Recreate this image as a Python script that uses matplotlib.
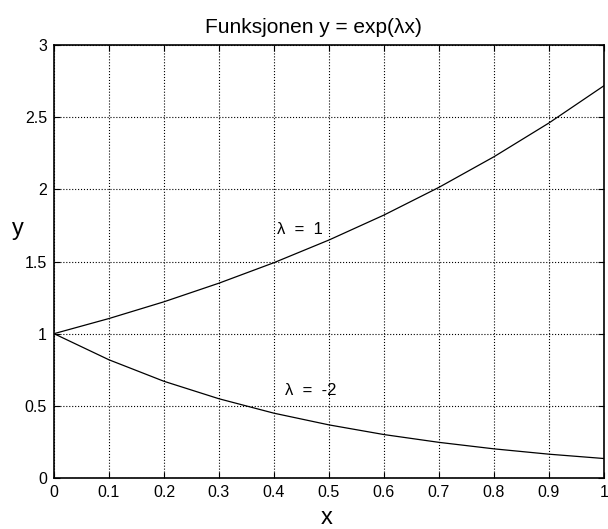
import matplotlib
matplotlib.use('Agg')
import matplotlib.pyplot as plt

# Values
x = [0, 0.1, 0.2, 0.3, 0.4, 0.5, 0.6, 0.7, 0.8, 0.9, 1.0]
y_pos = [1.0, 1.105, 1.221, 1.35, 1.492, 1.649, 1.822, 2.014, 2.226, 2.46, 2.718]
y_neg = [1.0, 0.819, 0.670, 0.549, 0.449, 0.368, 0.301, 0.247, 0.202, 0.165, 0.135]

x_ticks = [0, 0.1, 0.2, 0.3, 0.4, 0.5, 0.6, 0.7, 0.8, 0.9, 1]
x_tick_labels = ['0', '0.1', '0.2', '0.3', '0.4', '0.5', '0.6', '0.7', '0.8', '0.9', '1']
y_ticks = [0, 0.5, 1, 1.5, 2, 2.5, 3]
y_tick_labels = ['0', '0.5', '1', '1.5', '2', '2.5', '3']

plt.rcParams['font.family'] = ['Liberation Sans', 'DejaVu Sans']

fig = plt.figure(figsize=(6.08, 5.29), dpi=100)
ax = fig.add_axes([0.0888, 0.0964, 0.9046, 0.8185])

ax.plot(x, y_pos, color='black', linewidth=0.9)
ax.plot(x, y_neg, color='black', linewidth=0.9)

# curve labels
ax.text(0.405, 1.725, 'λ  =  1', fontsize=12, ha='left', va='center')
ax.text(0.42, 0.603, 'λ  =  -2', fontsize=12, ha='left', va='center')

ax.set_xlim(0, 1)
ax.set_ylim(0, 3)
ax.set_xticks(x_ticks)
ax.set_xticklabels(x_tick_labels)
ax.set_yticks(y_ticks)
ax.set_yticklabels(y_tick_labels)
ax.tick_params(direction='in', labelsize=11.5, length=4, width=0.8, top=True, right=True, pad=5)
ax.tick_params(axis='x', labeltop=False)
ax.tick_params(axis='y', labelright=False)
ax.grid(True, color='black', linestyle=':', linewidth=0.8)

for s in ax.spines.values():
    s.set_linewidth(1.2)

ax.set_title('Funksjonen y = exp(λx)', fontsize=15, x=0.471, pad=8.6)
ax.set_xlabel('x', fontsize=17, va='center')
ax.xaxis.set_label_coords(0.495, -0.092)
ax.set_ylabel('y', fontsize=17, rotation=0, ha='center', va='center')
ax.yaxis.set_label_coords(-0.065, 0.575)

fig.savefig('out.png', dpi=100)
